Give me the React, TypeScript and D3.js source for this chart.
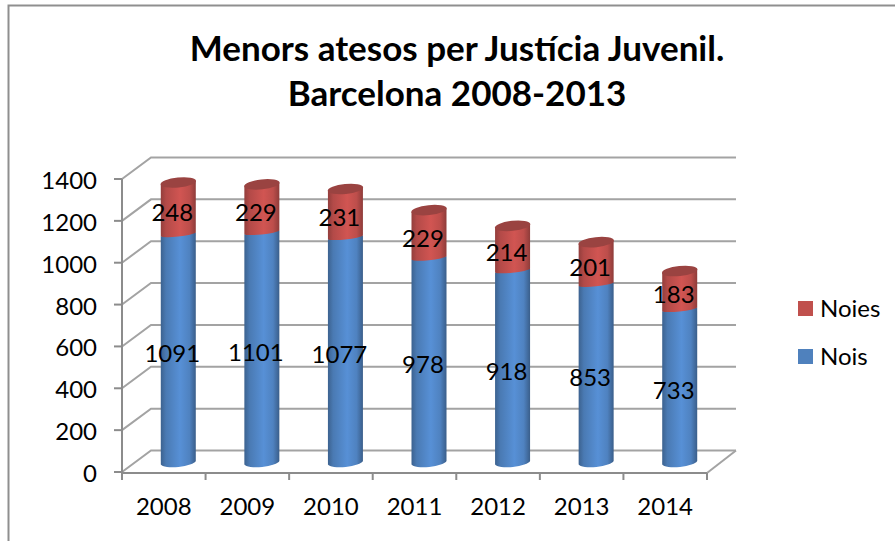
import * as d3 from "d3";

const years = ["2008", "2009", "2010", "2011", "2012", "2013", "2014"];
const nois = [1091, 1101, 1077, 978, 918, 853, 733];
const noies = [248, 229, 231, 229, 214, 201, 183];
const yTicks = [0, 200, 400, 600, 800, 1000, 1200, 1400];
const titleLines = ["Menors atesos per Justícia Juvenil.", "Barcelona 2008-2013"];
const legendItems = [
  { label: "Noies", color: "#C0504D" },
  { label: "Nois", color: "#4F81BD" },
];

const width = 895;
const height = 541;
const depthX = 29;
const depthY = 21.5;
const axisColor = "#8c8c8c";
const font = "Lato, 'Open Sans', sans-serif";
const labelSize = 24;

const x = d3.scaleBand().domain(years).range([122, 707]);
const y = d3.scaleLinear().domain([0, 1400]).range([472, 179]);

const rows = years.map((year, i) => ({ year, nois: nois[i], noies: noies[i] }));
const stacked = d3.stack<any>().keys(["nois", "noies"])(rows);

const barW = 35;
const rx = barW / 2 + 0.3;
const ry = 5;
const tilt = -6;
const slope = 1.8; // half the height gap between left and right edge, from the tilt
const barLift = depthY / 2 - 1.5;

const cx = (year: string) => x(year)! + x.bandwidth() / 2 + depthX / 2;
const barY = (v: number) => y(v) - barLift;

// side of a cylinder section, closed below with the front arc of the ellipse
function bodyPath(year: string, v0: number, v1: number, bottomRy: number) {
  const l = cx(year) - barW / 2;
  const r = cx(year) + barW / 2;
  const b = barY(v0);
  const t = barY(v1);
  return (
    `M${l},${t + slope}L${l},${b + slope}` +
    `A${rx},${bottomRy} ${tilt} 0 0 ${r},${b - slope}` +
    `L${r},${t - slope}Z`
  );
}

export default function App() {
  const backY = (v: number) => y(v) - depthY;
  return (
    <svg
      width={width}
      height={height}
      viewBox={`0 0 ${width} ${height}`}
      style={{ position: "absolute", left: 0, top: 0, background: "#fff" }}
      fontFamily={font}
    >
      <defs>
        <linearGradient id="blueBody" x1="0" x2="1" y1="0" y2="0">
          <stop offset="0" stopColor="#3c628f" />
          <stop offset="0.15" stopColor="#4a7ab3" />
          <stop offset="0.55" stopColor="#5790d6" />
          <stop offset="0.82" stopColor="#4f82c0" />
          <stop offset="1" stopColor="#3a5e8a" />
        </linearGradient>
        <linearGradient id="redBody" x1="0" x2="1" y1="0" y2="0">
          <stop offset="0" stopColor="#933e3c" />
          <stop offset="0.15" stopColor="#b34a48" />
          <stop offset="0.55" stopColor="#d15552" />
          <stop offset="0.82" stopColor="#bd4e4b" />
          <stop offset="1" stopColor="#8e3c3a" />
        </linearGradient>
      </defs>

      {/* frame */}
      <path d={`M8.5,${height}V5.5H${width}`} fill="none" stroke="#8f8f8f" strokeWidth={2} />

      {/* title */}
      <g textAnchor="middle" fontWeight={700} fontSize={35} fill="#000">
        {titleLines.map((line, i) => (
          <text key={line} x={457} y={61 + i * 45}>{line}</text>
        ))}
      </g>

      {/* gridlines and walls */}
      <g fill="none" stroke="#a3a3a3" strokeWidth={2}>
        {yTicks.map((t) => (
          <path
            key={t}
            d={`M${x.range()[0]},${y(t)}L${x.range()[0] + depthX},${backY(t)}H${x.range()[1] + depthX}`}
          />
        ))}
        <path d={`M${x.range()[1]},${y(0) + 1}L${x.range()[1] + depthX},${backY(0)}`} />
      </g>

      {/* axes */}
      <g fill="none" stroke={axisColor} strokeWidth={2}>
        <path d={`M${x.range()[0]},${y(1400)}V${y(0) + 1}H${x.range()[1]}`} />
        {yTicks.map((t) => (
          <path key={t} d={`M${x.range()[0] - 8},${y(t)}H${x.range()[0]}`} />
        ))}
        {[...years.map((yr) => x(yr)!), x.range()[1]].map((px) => (
          <path key={px} d={`M${px},${y(0) + 1}v7`} />
        ))}
      </g>

      {/* cylinders */}
      {stacked.map((layer) => (
        <g key={layer.key}>
          {layer.map((d: any) => {
            const yr = d.data.year;
            const isTop = layer.key === "noies";
            return (
              <g key={yr}>
                <path
                  d={bodyPath(yr, d[0], d[1], isTop ? 2.5 : ry)}
                  fill={isTop ? "url(#redBody)" : "url(#blueBody)"}
                />
                {isTop && (
                  <ellipse
                    cx={cx(yr)}
                    cy={barY(d[1])}
                    rx={rx}
                    ry={ry}
                    fill="#9a4341"
                    transform={`rotate(${tilt} ${cx(yr)} ${barY(d[1])})`}
                  />
                )}
              </g>
            );
          })}
        </g>
      ))}

      {/* value labels */}
      <g textAnchor="middle" fontSize={labelSize} fill="#000">
        {stacked.map((layer) =>
          layer.map((d: any) => (
            <text
              key={layer.key + d.data.year}
              x={cx(d.data.year) - 6}
              y={barY((d[0] + d[1]) / 2) + 13}
            >
              {d[1] - d[0]}
            </text>
          ))
        )}
      </g>

      {/* y labels */}
      <g textAnchor="end" fontSize={labelSize} fill="#000">
        {yTicks.map((t) => (
          <text key={t} x={97} y={y(t) + 10}>{t}</text>
        ))}
      </g>

      {/* x labels */}
      <g textAnchor="middle" fontSize={labelSize} fill="#000">
        {years.map((yr) => (
          <text key={yr} x={x(yr)! + x.bandwidth() / 2} y={515}>{yr}</text>
        ))}
      </g>

      {/* legend */}
      {legendItems.map((item, i) => (
        <g key={item.label} transform={`translate(798,${301 + i * 48})`}>
          <rect width={15} height={15} fill={item.color} />
          <text x={22} y={16} fontSize={labelSize} fill="#000">{item.label}</text>
        </g>
      ))}
    </svg>
  );
}
